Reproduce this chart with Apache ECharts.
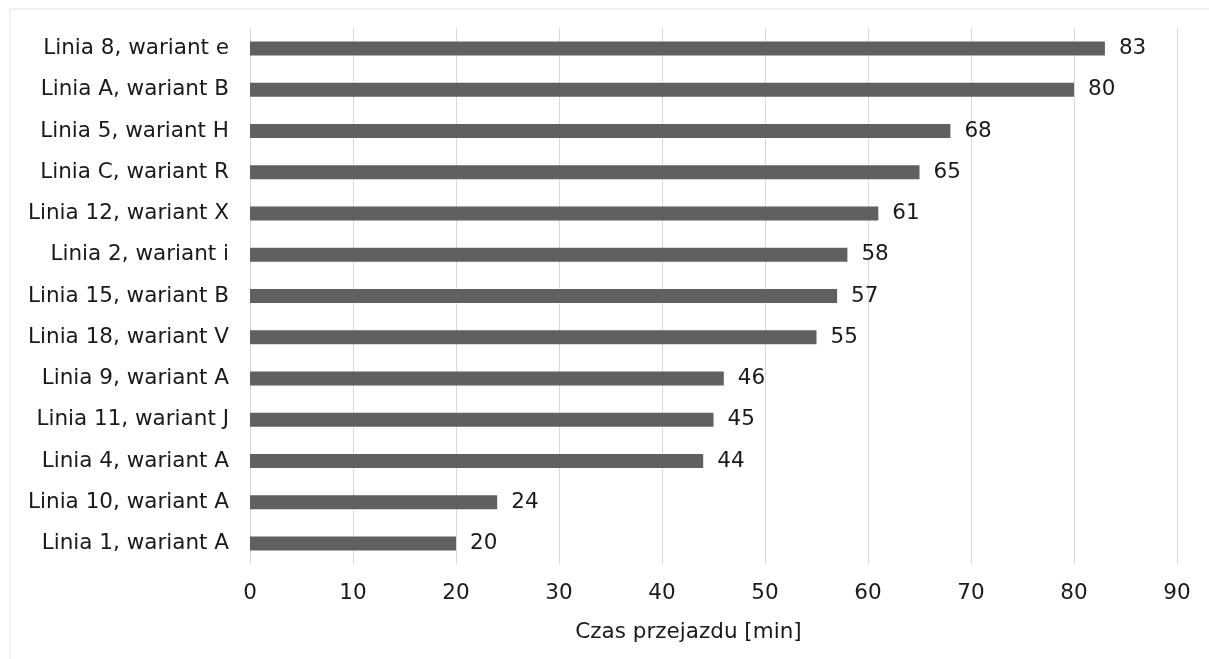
<!DOCTYPE html>
<html>
<head>
<meta charset="utf-8">
<script src="https://cdn.jsdelivr.net/npm/echarts@6/dist/echarts.min.js"></script>
<style>html,body{margin:0;padding:0;background:#fff}#c{width:1209px;height:659px}</style>
</head>
<body>
<div id="c"></div>
<script>
const categories = ["Linia 8, wariant e","Linia A, wariant B","Linia 5, wariant H","Linia C, wariant R","Linia 12, wariant X","Linia 2, wariant i","Linia 15, wariant B","Linia 18, wariant V","Linia 9, wariant A","Linia 11, wariant J","Linia 4, wariant A","Linia 10, wariant A","Linia 1, wariant A"];
const values = [83,80,68,65,61,58,57,55,46,45,44,24,20];
const axisTitle = "Czas przejazdu [min]";

const chart = echarts.init(document.getElementById('c'), null, {renderer:'canvas'});
const font = "DejaVu Sans";
const fs = 21.5;
chart.setOption({
  animation:false,
  backgroundColor:'#fff',
  graphic:[{type:'rect', shape:{x:10,y:9,width:1220,height:700}, style:{fill:'none', stroke:'#e3e3e3', lineWidth:1}, silent:true}],
  grid:{left:250,right:32,top:28,bottom:95,containLabel:false},
  xAxis:{type:'value',min:0,max:90,interval:10,
    name:axisTitle,nameLocation:'middle',nameGap:57,
    nameTextStyle:{fontFamily:font,fontSize:fs,color:'#1a1a1a',padding:[0,50,0,0]},
    axisLine:{show:false},axisTick:{show:false},
    axisLabel:{fontFamily:font,fontSize:fs,color:'#1a1a1a',margin:18},
    splitLine:{show:true,lineStyle:{color:'#d9d9d9',width:1}}},
  yAxis:{type:'category',data:categories,inverse:true,
    axisLine:{show:false},axisTick:{show:false},
    axisLabel:{fontFamily:font,fontSize:fs,color:'#1a1a1a',margin:21,padding:[3,0,0,0]}},
  series:[{type:'bar',data:values,barWidth:14,
    itemStyle:{color:'#606060'},
    label:{show:true,position:'right',distance:14,fontFamily:font,fontSize:fs,color:'#1a1a1a',padding:[3,0,0,0]}}]
});
</script>
</body>
</html>
